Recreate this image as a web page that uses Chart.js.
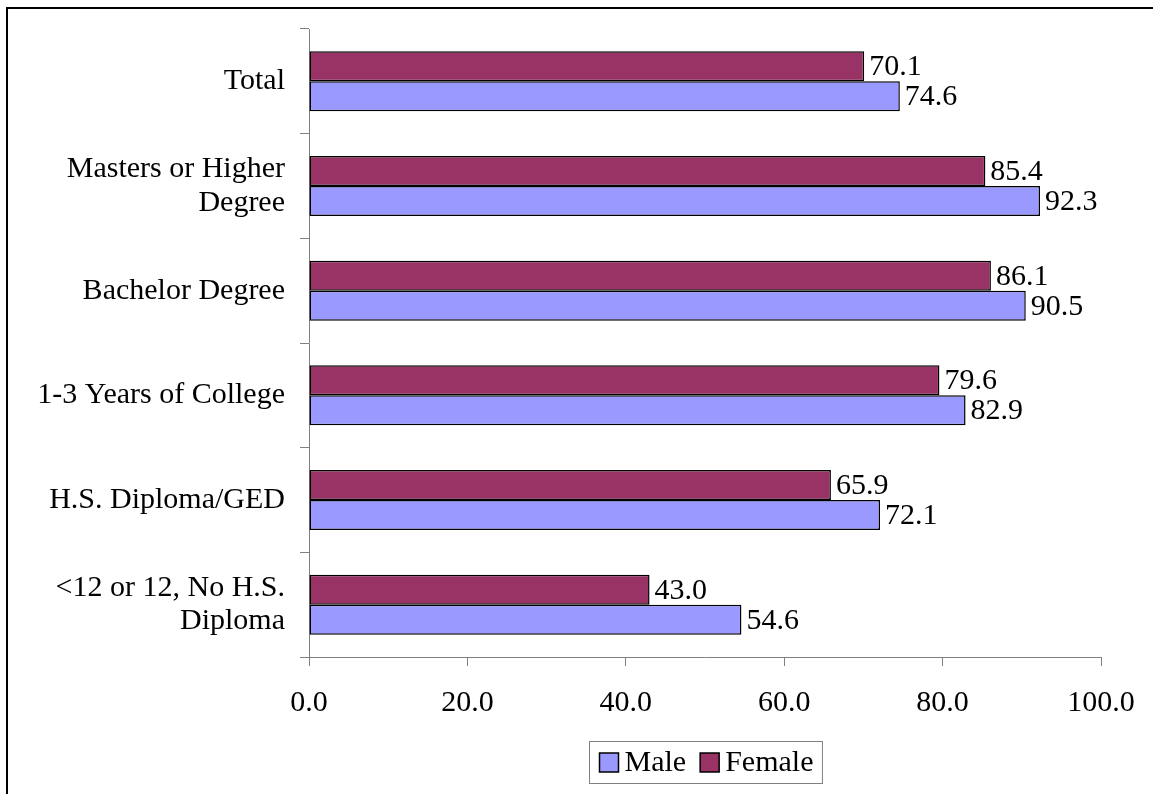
<!DOCTYPE html>
<html>
<head>
<meta charset="utf-8">
<title>Employment by Education and Sex</title>
<script src="https://cdn.jsdelivr.net/npm/chart.js@4.4.0/dist/chart.umd.min.js"></script>
<style>
  html, body { margin: 0; padding: 0; background: #fff; }
  #wrap { width: 1153px; height: 794px; position: relative; }
</style>
</head>
<body>
<div id="wrap"><canvas id="eduChart" width="1153" height="794"></canvas></div>
<script>
const categories = [
  'Total',
  ['Masters or Higher', 'Degree'],
  'Bachelor Degree',
  '1-3 Years of College',
  'H.S. Diploma/GED',
  ['<12 or 12, No H.S.', 'Diploma']
];
const femaleValues = [70.1, 85.4, 86.1, 79.6, 65.9, 43.0];
const maleValues = [74.6, 92.3, 90.5, 82.9, 72.1, 54.6];
const xTicks = [0, 20, 40, 60, 80, 100];

const FONT = '"Liberation Serif", "Times New Roman", serif';
const FONT_SIZE = 30;
const AXIS_GREY = '#808080';

// value labels at the end of each bar
const valueLabels = {
  id: 'valueLabels',
  afterDatasetsDraw(chart) {
    const ctx = chart.ctx;
    ctx.save();
    ctx.font = FONT_SIZE + 'px ' + FONT;
    ctx.fillStyle = '#000';
    ctx.textAlign = 'left';
    ctx.textBaseline = 'middle';
    chart.data.datasets.forEach((ds, i) => {
      chart.getDatasetMeta(i).data.forEach((bar, j) => {
        ctx.fillText(ds.data[j].toFixed(1), bar.x + 5, bar.y + 1);
      });
    });
    ctx.restore();
  }
};

// boxed legend under the axis plus the outer frame
const frameAndLegend = {
  id: 'frameAndLegend',
  afterDraw(chart) {
    const ctx = chart.ctx;
    const area = chart.chartArea;
    ctx.save();

    // outer frame (runs off the right and bottom edges)
    ctx.strokeStyle = '#000';
    ctx.lineWidth = 2;
    ctx.strokeRect(7, 8, 1180, 820);

    // legend: Male first, then Female
    const items = chart.data.datasets.slice().reverse();
    ctx.font = FONT_SIZE + 'px ' + FONT;
    const sq = 19, gapSq = 6, gapItem = 14, padL = 10, padR = 9;
    let w = padL + padR;
    items.forEach((ds, i) => {
      w += sq + gapSq + ctx.measureText(ds.label).width;
      if (i < items.length - 1) w += gapItem;
    });
    const h = 42;
    const cx = (area.left + area.right) / 2;
    const lx = Math.round(cx - w / 2) + 0.5;
    const ly = 741.5;
    ctx.fillStyle = '#fff';
    ctx.fillRect(lx, ly, w, h);
    ctx.strokeStyle = AXIS_GREY;
    ctx.lineWidth = 1;
    ctx.strokeRect(lx, ly, w, h);

    let x = lx + padL;
    const midY = ly + h / 2;
    ctx.textBaseline = 'middle';
    ctx.textAlign = 'left';
    items.forEach(ds => {
      ctx.fillStyle = ds.backgroundColor;
      ctx.fillRect(x, midY - sq / 2, sq, sq);
      ctx.strokeStyle = '#000';
      ctx.lineWidth = 1.5;
      ctx.strokeRect(x, midY - sq / 2, sq, sq);
      x += sq + gapSq;
      ctx.fillStyle = '#000';
      ctx.fillText(ds.label, x, midY + 1);
      x += ctx.measureText(ds.label).width + gapItem;
    });
    ctx.restore();
  }
};

const ctx = document.getElementById('eduChart').getContext('2d');
new Chart(ctx, {
  type: 'bar',
  data: {
    labels: categories,
    datasets: [
      {
        label: 'Female',
        data: femaleValues,
        backgroundColor: '#993366',
        borderColor: '#000',
        borderWidth: 1.5,
        borderSkipped: false,
        categoryPercentage: 0.573,
        barPercentage: 1
      },
      {
        label: 'Male',
        data: maleValues,
        backgroundColor: '#9999FF',
        borderColor: '#000',
        borderWidth: 1.5,
        borderSkipped: false,
        categoryPercentage: 0.573,
        barPercentage: 1
      }
    ]
  },
  options: {
    indexAxis: 'y',
    responsive: false,
    animation: false,
    layout: { padding: { top: 29, right: 52, left: 0, bottom: 0 } },
    plugins: {
      legend: { display: false },
      tooltip: { enabled: false }
    },
    scales: {
      x: {
        min: 0,
        max: 100,
        afterFit(scale) {
          scale.height = 137;
          scale.paddingLeft = 0;
          scale.paddingRight = 0;
        },
        afterBuildTicks(scale) { scale.ticks = xTicks.map(v => ({ value: v })); },
        grid: {
          drawOnChartArea: false,
          color: AXIS_GREY,
          tickLength: 9,
          tickColor: AXIS_GREY
        },
        border: { color: AXIS_GREY, width: 1 },
        ticks: {
          color: '#000',
          font: { family: FONT, size: FONT_SIZE },
          padding: 19,
          maxRotation: 0,
          callback: v => Number(v).toFixed(1)
        }
      },
      y: {
        afterFit(scale) {
          scale.width = 309;
          scale.paddingTop = 0;
          scale.paddingBottom = 0;
        },
        grid: {
          drawOnChartArea: false,
          offset: true,
          color: AXIS_GREY,
          tickLength: 9,
          tickColor: AXIS_GREY
        },
        border: { color: AXIS_GREY, width: 1 },
        ticks: {
          color: '#000',
          font: { family: FONT, size: FONT_SIZE, lineHeight: 1.13 },
          padding: 15,
          crossAlign: 'near'
        }
      }
    }
  },
  plugins: [valueLabels, frameAndLegend]
});
</script>
</body>
</html>
